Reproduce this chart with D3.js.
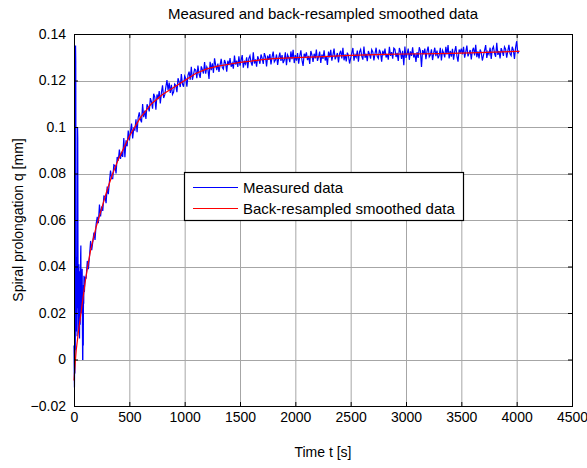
<!DOCTYPE html>
<html>
<head>
<meta charset="utf-8">
<script src="https://cdn.jsdelivr.net/npm/d3@7"></script>
<style>
    body { margin: 0; background: #fff; }
    svg text { font-family: "Liberation Sans", Arial, Helvetica, sans-serif; fill: #000; }
</style>
</head>
<body>
<div class="chart-container"></div>
<script>
// measured data, first 100 s (t, q) - the start-up spikes
const measuredStartT = [0, 2, 4, 6, 8, 10, 12, 14, 16, 18, 20, 22, 24, 26, 28, 30, 32, 34, 36, 38, 40, 42, 44, 46, 48, 50,
    52, 54, 56, 58, 60, 62, 64, 66, 68, 70, 72, 74, 76, 78, 80, 82, 84, 86, 88, 90, 94];
const measuredStartQ = [0.006, -0.004, -0.012, 0.002, -0.006, 0.009, 0.004, 0.135, 0.128, 0.06, 0.012, 0.03, 0.02, 0.044, 0.01, 0.04,
    0.1, 0.095, 0.048, 0.022, 0.035, 0.012, 0.041, 0.018, 0.031, 0.009, 0.026, 0.038, 0.015, 0.033, 0.045, 0.049,
    0.02, 0.037, 0.028, 0.034, 0.022, 0.039, 0.014, 0.0, 0.0, 0.028, 0.006, 0.032, 0.024, 0.036, 0.029];

// measured data from 100 s on, one sample every 10 s (one row = 200 s)
const measuredT0 = 100;
const measuredStep = 10;
const measuredQ = [
    0.0353, 0.0351, 0.0424, 0.0388, 0.0445, 0.051, 0.047, 0.0507, 0.0546, 0.0514, 0.0582, 0.0614, 0.0586, 0.0666, 0.0615, 0.0658, 0.0639, 0.0703, 0.0701, 0.0672,
    0.0744, 0.0711, 0.0764, 0.0813, 0.0778, 0.0778, 0.0837, 0.0834, 0.08, 0.0871, 0.0855, 0.0903, 0.0863, 0.0893, 0.0871, 0.0953, 0.087, 0.0943, 0.0917, 0.0985,
    0.0942, 0.0978, 0.1015, 0.0951, 0.0993, 0.0987, 0.1033, 0.0978, 0.1041, 0.1063, 0.1033, 0.102, 0.1099, 0.1042, 0.1071, 0.1035, 0.1098, 0.1086, 0.1067, 0.1124,
    0.1108, 0.1079, 0.1143, 0.1128, 0.1074, 0.114, 0.112, 0.1155, 0.1101, 0.1148, 0.1179, 0.1125, 0.1138, 0.1172, 0.1202, 0.1158, 0.1191, 0.1147, 0.1181, 0.114,
    0.115, 0.1185, 0.1179, 0.115, 0.121, 0.1193, 0.1172, 0.1228, 0.1185, 0.1173, 0.1219, 0.1208, 0.1173, 0.1223, 0.1238, 0.1203, 0.1259, 0.1203, 0.1226, 0.1249,
    0.1245, 0.121, 0.1264, 0.1228, 0.1211, 0.1261, 0.1246, 0.123, 0.1279, 0.1229, 0.1259, 0.1248, 0.1207, 0.128, 0.1244, 0.1274, 0.1233, 0.1295, 0.1267, 0.1245,
    0.1273, 0.1237, 0.1266, 0.1293, 0.1256, 0.1249, 0.1288, 0.1275, 0.1238, 0.1285, 0.1266, 0.1296, 0.1259, 0.1274, 0.1251, 0.1307, 0.1269, 0.1285, 0.1258, 0.1304,
    0.1264, 0.1287, 0.1309, 0.1255, 0.1281, 0.1271, 0.13, 0.1253, 0.1295, 0.1307, 0.1278, 0.1264, 0.1321, 0.1273, 0.1291, 0.1259, 0.1304, 0.1291, 0.1272, 0.1312,
    0.1296, 0.1271, 0.1318, 0.1303, 0.126, 0.1307, 0.1289, 0.1314, 0.1269, 0.1302, 0.1324, 0.128, 0.1288, 0.1312, 0.1267, 0.1297, 0.132, 0.1284, 0.1309, 0.1275,
    0.1288, 0.1321, 0.1266, 0.131, 0.1299, 0.1279, 0.1325, 0.1292, 0.1332, 0.1275, 0.1309, 0.1285, 0.1318, 0.1272, 0.1306, 0.133, 0.1287, 0.1263, 0.1315, 0.1303,
    0.1321, 0.1288, 0.1306, 0.1271, 0.1327, 0.131, 0.128, 0.1315, 0.1295, 0.1333, 0.1284, 0.1302, 0.1324, 0.1276, 0.1312, 0.1293, 0.133, 0.1286, 0.1304, 0.1267,
    0.1324, 0.1299, 0.1332, 0.1285, 0.131, 0.1337, 0.1291, 0.1304, 0.1318, 0.1278, 0.1315, 0.1328, 0.1295, 0.1341, 0.1287, 0.1312, 0.1282, 0.132, 0.1307, 0.1273,
    0.1296, 0.1318, 0.134, 0.1285, 0.1311, 0.13, 0.1329, 0.1281, 0.1323, 0.1334, 0.1305, 0.129, 0.1346, 0.1298, 0.1315, 0.1283, 0.1327, 0.1313, 0.1294, 0.1333,
    0.1323, 0.1286, 0.1315, 0.1341, 0.1303, 0.1295, 0.1333, 0.1319, 0.1281, 0.1328, 0.1308, 0.1337, 0.1299, 0.1314, 0.129, 0.1345, 0.1306, 0.1322, 0.1294, 0.1339,
    0.1334, 0.1301, 0.1319, 0.1284, 0.134, 0.1323, 0.1293, 0.1328, 0.1266, 0.1346, 0.1297, 0.1315, 0.1337, 0.1289, 0.1325, 0.1306, 0.1343, 0.1299, 0.1317, 0.128,
    0.1322, 0.1297, 0.1343, 0.1328, 0.1258, 0.1331, 0.1313, 0.1337, 0.1292, 0.1325, 0.1346, 0.1302, 0.131, 0.1334, 0.1288, 0.1318, 0.1341, 0.1305, 0.1329, 0.1295,
    0.1308, 0.1341, 0.1286, 0.133, 0.1319, 0.1299, 0.1345, 0.1312, 0.1352, 0.1295, 0.1327, 0.1303, 0.1336, 0.129, 0.1324, 0.1348, 0.1305, 0.1281, 0.1333, 0.1321,
    0.1337, 0.1312, 0.1345, 0.1298, 0.1323, 0.135, 0.1304, 0.1317, 0.1331, 0.1291, 0.1328, 0.1341, 0.1308, 0.1354, 0.13, 0.1325, 0.1295, 0.1333, 0.132, 0.1286,
    0.1308, 0.133, 0.1352, 0.1297, 0.1323, 0.1312, 0.1341, 0.1293, 0.1335, 0.1346, 0.1317, 0.1302, 0.1362, 0.131, 0.1327, 0.1295, 0.1339, 0.1325, 0.1306, 0.1345,
    0.1335, 0.1298, 0.1327, 0.1353, 0.1315, 0.1307, 0.1345, 0.1331, 0.1293, 0.134, 0.137, 0.1316, 0.1328
];

// back-resampled smoothed curve (t, q)
const smoothT = [0, 10, 20, 40, 60, 80, 100, 120, 150, 200, 250, 300, 350, 400, 450, 500, 600, 700, 800, 900,
    1000, 1100, 1200, 1300, 1400, 1500, 1600, 1700, 1800, 2000, 2200, 2500, 2800, 3000, 3300, 3500, 3800, 4000, 4025];
const smoothQ = [-0.009, -0.002, 0.004, 0.012, 0.019, 0.026, 0.033, 0.039, 0.047, 0.057, 0.065, 0.073, 0.080, 0.086, 0.091, 0.096,
    0.104, 0.110, 0.114, 0.117, 0.120, 0.123, 0.125, 0.1262, 0.127, 0.1278, 0.1283, 0.129, 0.1294, 0.1298, 0.1302,
    0.1308, 0.1312, 0.1314, 0.1316, 0.1318, 0.1322, 0.1325, 0.1325];

const xTicks = [0, 500, 1000, 1500, 2000, 2500, 3000, 3500, 4000, 4500];
const yTicks = [-0.02, 0, 0.02, 0.04, 0.06, 0.08, 0.1, 0.12, 0.14];

const titleText = 'Measured and back-resampled smoothed data';
const xLabel = 'Time t [s]';
const yLabel = 'Spiral prolongation q [mm]';
const legendNames = ['Measured data', 'Back-resampled smoothed data'];
const legendColors = ['#0000ff', '#ff0000'];

const width = 587;
const height = 468;
const marginTop = 34;
const marginRight = 15;
const marginBottom = 62;
const marginLeft = 74;
const fontSize = 14;
const bigFontSize = 15;

const measured = measuredStartT.map((t, i) => ({ t: t, q: measuredStartQ[i] }))
    .concat(measuredQ.map((q, i) => ({ t: measuredT0 + i * measuredStep, q: q })));
const smooth = smoothT.map((t, i) => ({ t: t, q: smoothQ[i] }));

const x = d3.scaleLinear()
    .domain([0, 4500])
    .range([marginLeft, width - marginRight]);

const y = d3.scaleLinear()
    .domain([-0.02, 0.14])
    .range([height - marginBottom, marginTop]);

const svg = d3.select('.chart-container').append('svg')
    .attr('width', width)
    .attr('height', height);

// grid
svg.append('g')
    .selectAll('line')
    .data(xTicks.slice(1, -1))
    .enter()
    .append('line')
    .attr('x1', d => x(d) + 0.5).attr('x2', d => x(d) + 0.5)
    .attr('y1', marginTop).attr('y2', height - marginBottom)
    .attr('stroke', '#a6a6a6');

svg.append('g')
    .selectAll('line')
    .data(yTicks.slice(1, -1))
    .enter()
    .append('line')
    .attr('y1', d => Math.round(y(d)) + 0.5).attr('y2', d => Math.round(y(d)) + 0.5)
    .attr('x1', marginLeft).attr('x2', width - marginRight)
    .attr('stroke', '#a6a6a6');

// data lines
const line = d3.line()
    .x(d => x(d.t))
    .y(d => y(d.q));

svg.append('path')
    .datum(measured)
    .attr('fill', 'none')
    .attr('stroke', legendColors[0])
    .attr('stroke-width', 1.2)
    .attr('d', line);

svg.append('path')
    .datum(smooth)
    .attr('fill', 'none')
    .attr('stroke', legendColors[1])
    .attr('stroke-width', 1.2)
    .attr('d', line);

// axes, ticks inward on all four sides
const axisStyle = g => {
    g.select('.domain').remove();
    g.selectAll('.tick line').attr('stroke', '#000');
    g.selectAll('.tick text').style('font-size', fontSize + 'px');
};

svg.append('g')
    .attr('transform', `translate(0,${height - marginBottom})`)
    .call(d3.axisBottom(x).tickValues(xTicks).tickSize(-4).tickPadding(6).tickFormat(d3.format('d')))
    .call(axisStyle);

svg.append('g')
    .attr('transform', `translate(0,${marginTop})`)
    .call(d3.axisTop(x).tickValues(xTicks).tickSize(-4).tickFormat(''))
    .call(axisStyle);

svg.append('g')
    .attr('transform', `translate(${marginLeft},0)`)
    .call(d3.axisLeft(y).tickValues(yTicks).tickSize(-4).tickPadding(8).tickFormat(d => d3.format('')(+d.toFixed(2))))
    .call(axisStyle);

svg.append('g')
    .attr('transform', `translate(${width - marginRight},0)`)
    .call(d3.axisRight(y).tickValues(yTicks).tickSize(-4).tickFormat(''))
    .call(axisStyle);

svg.append('rect')
    .attr('x', marginLeft + 0.5)
    .attr('y', marginTop + 0.5)
    .attr('width', width - marginLeft - marginRight)
    .attr('height', height - marginTop - marginBottom)
    .attr('fill', 'none')
    .attr('stroke', '#000');

// titles
svg.append('text')
    .attr('x', (marginLeft + width - marginRight) / 2)
    .attr('y', 19)
    .attr('text-anchor', 'middle')
    .style('font-size', bigFontSize + 'px')
    .text(titleText);

svg.append('text')
    .attr('x', (marginLeft + width - marginRight) / 2)
    .attr('y', 457)
    .attr('text-anchor', 'middle')
    .style('font-size', fontSize + 'px')
    .text(xLabel);

svg.append('text')
    .attr('transform', `translate(23,${(marginTop + height - marginBottom) / 2}) rotate(-90)`)
    .attr('text-anchor', 'middle')
    .style('font-size', fontSize + 'px')
    .text(yLabel);

// legend
const legend = svg.append('g')
    .attr('transform', 'translate(184,172)');

legend.append('rect')
    .attr('x', 0.5).attr('y', 0.5)
    .attr('width', 279).attr('height', 48)
    .attr('fill', '#fff')
    .attr('stroke', '#000')
    .attr('stroke-width', 1.2);

legend.selectAll('line')
    .data(legendNames)
    .enter()
    .append('line')
    .attr('x1', 9).attr('x2', 54)
    .attr('y1', (d, i) => 15.5 + i * 21).attr('y2', (d, i) => 15.5 + i * 21)
    .attr('stroke', (d, i) => legendColors[i]);

legend.selectAll('text')
    .data(legendNames)
    .enter()
    .append('text')
    .attr('x', 59)
    .attr('y', (d, i) => 20.5 + i * 21)
    .style('font-size', bigFontSize + 'px')
    .text(d => d);
</script>
</body>
</html>
